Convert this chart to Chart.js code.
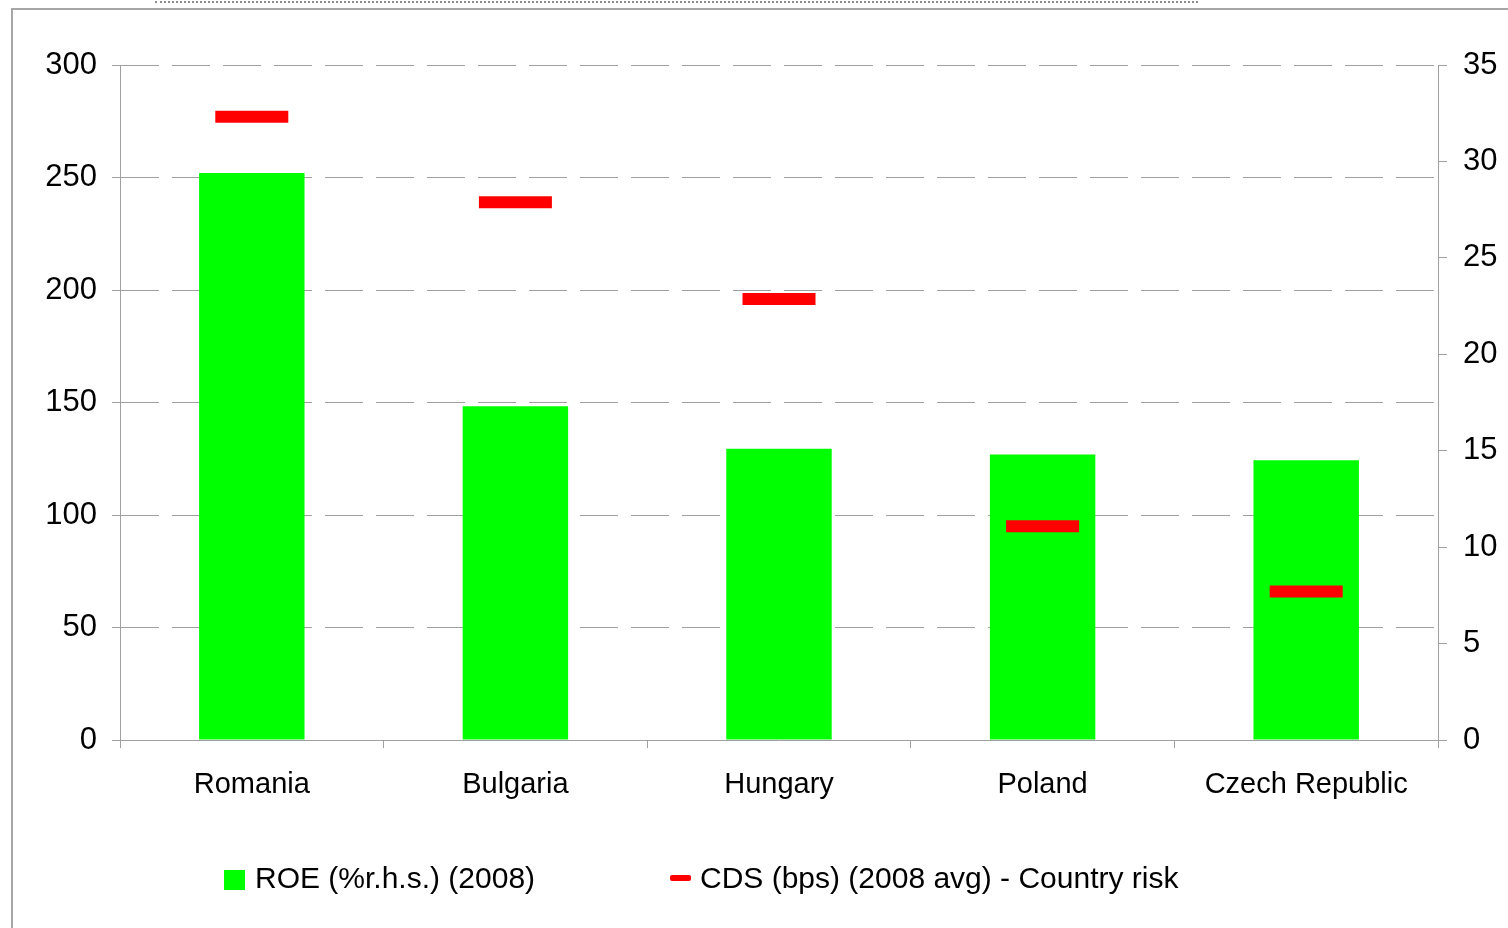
<!DOCTYPE html>
<html>
<head>
<meta charset="utf-8">
<script src="https://cdn.jsdelivr.net/npm/chart.js@4"></script>
<style>
  html, body { margin: 0; padding: 0; background: #fff; }
  body { width: 1508px; height: 928px; position: relative; overflow: hidden; font-family: "Liberation Sans", Arial, sans-serif; }
  #wrap { position: absolute; left: 0; top: 0; width: 1508px; height: 928px; }
  .frame { position: absolute; left: 11px; top: 8px; right: 0; bottom: 0; border-left: 2px solid #a6a6a6; border-top: 2px solid #a6a6a6; }
  .dots { position: absolute; left: 155px; top: 1px; width: 1043px; border-top: 2px dotted #8c8c8c; }
  #legend { position: absolute; top: 858px; left: 0; width: 1508px; height: 40px; font-size: 30px; color: #000; }
  .item { position: absolute; top: 0; white-space: nowrap; line-height: 40px; }
  .sw { position: absolute; }
</style>
</head>
<body>
<div class="dots"></div>
<div class="frame"></div>
<div id="wrap"><canvas id="chartRisk" width="1508" height="928"></canvas></div>
<div id="legend"></div>
<script>
const countries = ['Romania', 'Bulgaria', 'Hungary', 'Poland', 'Czech Republic'];
// ROE, % (right hand scale)
const roe = [29.4, 17.3, 15.1, 14.8, 14.5];
// CDS, bps (left hand scale)
const cds = [277, 239, 196, 95, 66];
const leftMax = 300, leftStep = 50;
const rightMax = 35, rightStep = 5;

const roeLabel = 'ROE (%r.h.s.) (2008)';
const cdsLabel = 'CDS (bps) (2008 avg) - Country risk';

const axisGray = '#a0a0a0';
const font = { family: '"Liberation Sans", Arial, sans-serif', size: 31 };

const chartRisk = document.getElementById('chartRisk');

new Chart(chartRisk, {
  type: 'bar',
  data: {
    labels: countries,
    datasets: [
      {
        type: 'line',
        label: cdsLabel,
        data: cds,
        yAxisID: 'y',
        showLine: false,
        pointStyle: 'line',
        pointRadius: 36.5,
        pointHoverRadius: 36.5,
        pointBorderWidth: 12,
        borderColor: '#ff0000',
        backgroundColor: '#ff0000',
        order: 0,
      },
      {
        label: roeLabel,
        data: roe,
        yAxisID: 'y1',
        backgroundColor: '#00ff00',
        barPercentage: 0.4,
        categoryPercentage: 1,
        order: 1,
      },
    ],
  },
  options: {
    responsive: false,
    animation: false,
    events: [],
    layout: { padding: { left: 0, right: 0, top: 65, bottom: 108 } },
    plugins: {
      legend: { display: false },
      tooltip: { enabled: false },
    },
    scales: {
      x: {
        grid: { drawOnChartArea: false, drawTicks: true, tickLength: 8, color: axisGray, offset: true },
        border: { color: axisGray, width: 1 },
        ticks: { color: '#000', font: { family: font.family, size: 29 }, padding: 20, maxRotation: 0 },
        afterFit: (s) => { s.height = 80; },
      },
      y: {
        position: 'left',
        min: 0,
        max: leftMax,
        ticks: { stepSize: leftStep, color: '#000', font: font, padding: 15 },
        grid: { color: axisGray, tickBorderDash: [], tickLength: 8, tickColor: axisGray, lineWidth: 1 },
        border: { color: axisGray, width: 1, dash: [38, 13] },
        afterFit: (s) => { s.width = 120; },
      },
      y1: {
        position: 'right',
        min: 0,
        max: rightMax,
        ticks: { stepSize: rightStep, color: '#000', font: font, padding: 16 },
        grid: { drawOnChartArea: false, tickLength: 9, color: axisGray },
        border: { color: axisGray, width: 1 },
        afterFit: (s) => { s.width = 70; },
      },
    },
  },
});

// legend drawn as html text
const legendBox = document.getElementById('legend');
const legendItems = [
  { text: roeLabel, left: 255, sw: { left: 224, top: 12, width: 21, height: 20, color: '#00ff00' } },
  { text: cdsLabel, left: 700, sw: { left: 670, top: 17, width: 21, height: 6, color: '#ff0000', radius: 2 } },
];
legendItems.forEach(it => {
  const sw = document.createElement('div');
  sw.className = 'sw';
  sw.style.left = it.sw.left + 'px';
  sw.style.top = it.sw.top + 'px';
  sw.style.width = it.sw.width + 'px';
  sw.style.height = it.sw.height + 'px';
  sw.style.background = it.sw.color;
  if (it.sw.radius) sw.style.borderRadius = it.sw.radius + 'px';
  legendBox.appendChild(sw);
  const t = document.createElement('div');
  t.className = 'item';
  t.style.left = it.left + 'px';
  t.textContent = it.text;
  legendBox.appendChild(t);
});
</script>
</body>
</html>
